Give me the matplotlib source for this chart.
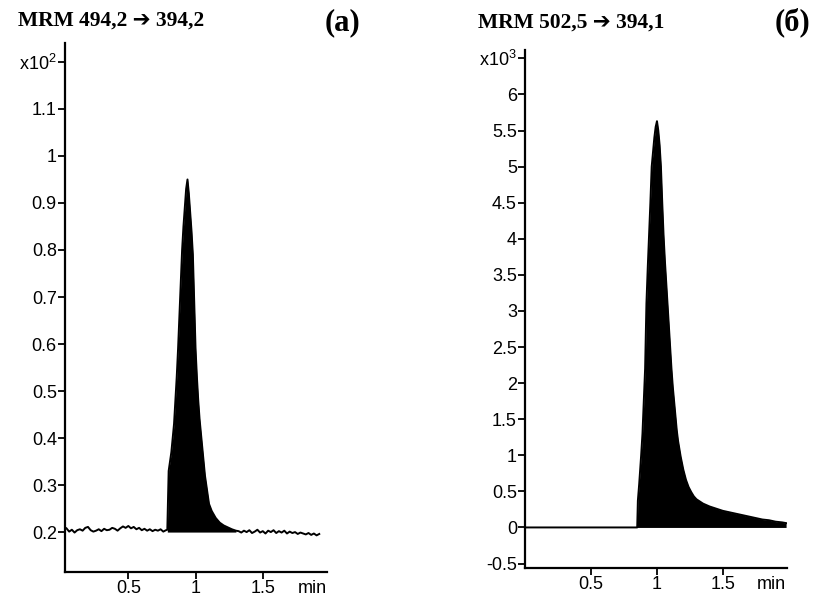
import matplotlib
matplotlib.use("Agg")
import matplotlib.pyplot as plt
import numpy as np

# ---------------- data: panel (a) ----------------
a_base_left_t = [round(0.04 + 0.02 * i, 2) for i in range(38)]
a_base_left_y = [0.208, 0.201, 0.205, 0.199, 0.204, 0.206, 0.203, 0.209, 0.211, 0.204,
                 0.201, 0.203, 0.206, 0.202, 0.207, 0.204, 0.205, 0.209, 0.207, 0.203,
                 0.208, 0.212, 0.209, 0.213, 0.208, 0.211, 0.206, 0.209, 0.204, 0.207,
                 0.203, 0.206, 0.202, 0.205, 0.203, 0.206, 0.201, 0.204]
a_peak_t = [0.79, 0.80, 0.81, 0.82, 0.83, 0.84, 0.85, 0.86, 0.87, 0.88, 0.89, 0.90,
            0.91, 0.92, 0.93, 0.94, 0.95, 0.96, 0.97, 0.98, 0.99, 1.00, 1.01, 1.02,
            1.03, 1.04, 1.05, 1.06, 1.07, 1.08, 1.09, 1.10, 1.12, 1.15, 1.18, 1.21,
            1.24, 1.27, 1.30]
a_peak_y = [0.205, 0.33, 0.35, 0.37, 0.40, 0.43, 0.48, 0.53, 0.59, 0.66, 0.73, 0.80,
            0.85, 0.89, 0.93, 0.95, 0.92, 0.88, 0.84, 0.79, 0.69, 0.59, 0.53, 0.48,
            0.44, 0.41, 0.38, 0.35, 0.32, 0.30, 0.28, 0.26, 0.245, 0.23, 0.22, 0.214,
            0.21, 0.206, 0.203]
a_base_right_t = [round(1.32 + 0.02 * i, 2) for i in range(31)]
a_base_right_y = [0.202, 0.199, 0.203, 0.200, 0.204, 0.198, 0.201, 0.205, 0.199, 0.202,
                  0.197, 0.203, 0.200, 0.204, 0.198, 0.202, 0.199, 0.203, 0.197, 0.201,
                  0.198, 0.200, 0.196, 0.199, 0.197, 0.195, 0.198, 0.194, 0.197, 0.193,
                  0.196]
a_yticks = [0.2, 0.3, 0.4, 0.5, 0.6, 0.7, 0.8, 0.9, 1.0, 1.1, 1.2]
a_ylabels = ["0.2", "0.3", "0.4", "0.5", "0.6", "0.7", "0.8", "0.9", "1", "1.1", "x10$^{2}$"]

# ---------------- data: panel (б) ----------------
b_t = [0.00, 0.20, 0.40, 0.60, 0.80, 0.85, 0.855, 0.865, 0.88, 0.89, 0.90, 0.91, 0.92,
       0.93, 0.94, 0.95, 0.96, 0.97, 0.98, 0.99, 1.00, 1.01, 1.02, 1.03, 1.04, 1.05,
       1.06, 1.07, 1.08, 1.09, 1.10, 1.11, 1.12, 1.13, 1.14, 1.15, 1.16, 1.18, 1.20,
       1.22, 1.24, 1.26, 1.28, 1.30, 1.35, 1.40, 1.45, 1.50, 1.55, 1.60, 1.65, 1.70,
       1.75, 1.80, 1.85, 1.90, 1.95, 1.98]
b_y = [0.0, 0.0, 0.0, 0.0, 0.0, 0.0, 0.37, 0.60, 1.0, 1.3, 1.75, 2.2, 3.1,
       3.6, 4.05, 4.5, 5.0, 5.2, 5.4, 5.55, 5.63, 5.5, 5.3, 5.0, 4.5, 4.05,
       3.7, 3.4, 3.1, 2.8, 2.5, 2.2, 1.95, 1.75, 1.55, 1.35, 1.2, 0.98, 0.8,
       0.66, 0.56, 0.49, 0.43, 0.39, 0.33, 0.29, 0.26, 0.23, 0.21, 0.19, 0.17, 0.15,
       0.13, 0.11, 0.10, 0.08, 0.07, 0.06]
b_yticks = [-0.5, 0, 0.5, 1, 1.5, 2, 2.5, 3, 3.5, 4, 4.5, 5, 5.5, 6, 6.5]
b_ylabels = ["-0.5", "0", "0.5", "1", "1.5", "2", "2.5", "3", "3.5", "4", "4.5", "5",
             "5.5", "6", "x10$^{3}$"]

x_ticks = [0.5, 1.0, 1.5, 1.87]
x_labels = ["0.5", "1", "1.5", "min"]

titles = ["MRM 494,2 \u2794 394,2", "MRM 502,5 \u2794 394,1"]
panel_tags = ["(a)", "(\u0431)"]

# ---------------- figure ----------------
tick_font = ["Liberation Sans Narrow", "Liberation Sans", "DejaVu Sans"]
serif_font = ["Liberation Serif", "DejaVu Sans"]
plt.rcParams["font.family"] = tick_font
plt.rcParams["mathtext.fontset"] = "custom"
plt.rcParams["mathtext.rm"] = "Liberation Sans"
plt.rcParams["mathtext.it"] = "Liberation Sans"

fig = plt.figure(figsize=(8.35, 5.99), dpi=100)
axA = fig.add_axes([0.078, 0.045, 0.314, 0.883])
axB = fig.add_axes([0.629, 0.052, 0.314, 0.865])

def style(ax):
    for s in ["top", "right"]:
        ax.spines[s].set_visible(False)
    for s in ["left", "bottom"]:
        ax.spines[s].set_linewidth(1.6)
    ax.tick_params(axis="both", direction="out", length=5, width=1.3,
                   labelsize=13, pad=1)
    ax.set_xticks(x_ticks)
    ax.set_xticklabels(x_labels)
    ax.xaxis.get_major_ticks()[3].tick1line.set_visible(False)

# panel (a)
a_t = a_base_left_t + a_peak_t + a_base_right_t
a_y = a_base_left_y + a_peak_y + a_base_right_y
axA.fill_between(a_peak_t, a_peak_y, 0.2, color="black", lw=0)
axA.plot(a_t, a_y, color="black", lw=1.4)
axA.set_xlim(0.03, 1.98)
axA.set_ylim(0.115, 1.24)
axA.set_yticks(a_yticks)
axA.set_yticklabels(a_ylabels)
style(axA)

# panel (б)
axB.fill_between(b_t, b_y, 0, color="black", lw=0)
axB.plot(b_t, b_y, color="black", lw=1.4)
axB.set_xlim(0.0, 1.99)
axB.set_ylim(-0.56, 6.62)
axB.set_yticks(b_yticks)
axB.set_yticklabels(b_ylabels)
style(axB)

# titles
fig.text(0.022, 0.966, titles[0], fontsize=15.5, family=serif_font, weight="bold",
         ha="left", va="center")
fig.text(0.41, 0.962, panel_tags[0], fontsize=22, family=serif_font, weight="bold",
         ha="center", va="center")
fig.text(0.572, 0.962, titles[1], fontsize=15.5, family=serif_font, weight="bold",
         ha="left", va="center")
fig.text(0.949, 0.962, panel_tags[1], fontsize=22, family=serif_font, weight="bold",
         ha="center", va="center")

fig.savefig("out.png", dpi=100)
